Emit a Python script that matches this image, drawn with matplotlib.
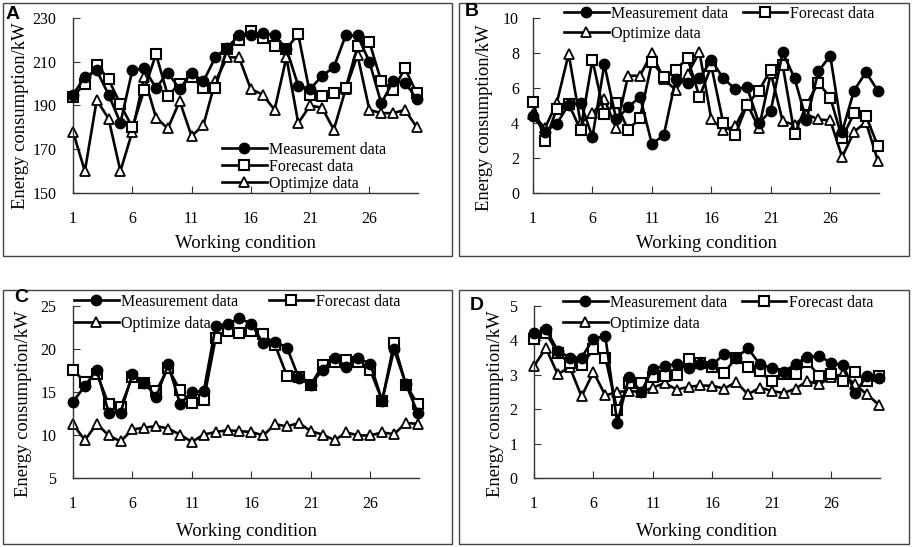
import matplotlib
matplotlib.use("Agg")
import matplotlib.pyplot as plt
from matplotlib.patches import Rectangle

W, H = 913, 547

cond = list(range(1, 31))

# Panel A
a_meas = [195, 203, 206, 195, 182, 206, 207, 198, 205, 197.5, 205, 201, 212, 216.5, 222,
          222, 223, 222, 216, 199, 197.5, 203.5, 207.5, 222, 222, 210, 191, 201, 200.5, 193]
a_fore = [194, 200, 208.5, 202, 190.5, 180, 197, 213.5, 194.5, 200, 203, 198, 198, 216, 220,
          224, 221, 217, 216, 222.5, 195, 194.5, 195.5, 198, 217, 219, 201, 197, 207, 195.5]
a_opt = [178, 160, 192.5, 184, 160, 178, 203, 184.5, 179.5, 192, 176, 181, 201, 212, 212,
         197.5, 195, 188, 212, 182, 190, 189, 179, 197.5, 213, 188, 186.5, 186.5, 188, 180]

# Panel B
b_meas = [4.4, 3.5, 3.95, 5.05, 5.15, 3.2, 7.35, 4.2, 4.9, 5.5, 2.8, 3.3, 6.5, 6.3, 6.55,
          7.6, 6.55, 5.95, 6.05, 4.0, 4.7, 8.05, 6.55, 4.15, 6.95, 7.85, 3.5, 5.85, 6.9, 5.85]
b_fore = [5.2, 2.95, 4.8, 5.1, 3.6, 7.6, 4.5, 5.15, 3.6, 4.3, 7.5, 6.65, 7.05, 7.7, 5.5,
          7.25, 4.0, 3.3, 5.05, 5.85, 7.05, 7.3, 3.35, 5.05, 6.3, 5.45, 3.15, 4.55, 4.4, 2.7]
b_opt = [4.5, 3.7, 5.15, 7.95, 4.0, 4.55, 5.35, 3.7, 6.7, 6.7, 8.0, 6.5, 5.9, 6.8, 8.05,
         4.2, 3.6, 3.8, 5.1, 3.7, 6.85, 4.1, 3.9, 4.5, 4.2, 4.15, 2.05, 3.5, 4.05, 1.85]

# Panel C
c_meas = [13.85, 15.7, 17.6, 12.6, 12.6, 17.1, 16.1, 14.4, 18.2, 13.65, 14.95, 15.1, 22.7,
          22.9, 23.55, 22.95, 20.65, 20.85, 20.15, 16.6, 15.85, 17.6, 18.95, 17.95, 18.9,
          18.3, 14.0, 19.95, 15.9, 12.55]
c_fore = [17.55, 16.2, 17.15, 13.55, 13.2, 16.8, 16.1, 15.15, 17.75, 15.2, 13.7, 14.1, 21.3,
          22.1, 21.85, 22.1, 21.75, 20.45, 16.85, 16.8, 15.85, 18.1, 18.5, 18.7, 18.5,
          17.55, 14.0, 20.65, 15.85, 13.55]
c_opt = [11.25, 9.4, 11.3, 9.95, 9.25, 10.65, 10.85, 11.05, 10.75, 10.05, 9.2, 10.05, 10.35,
         10.55, 10.45, 10.35, 9.95, 11.25, 11.0, 11.4, 10.45, 10.05, 9.4, 10.3, 9.95, 9.95,
         10.3, 10.1, 11.4, 11.3]

# Panel D
d_meas = [4.21, 4.33, 3.7, 3.5, 3.5, 4.05, 4.12, 1.6, 2.95, 2.5, 3.18, 3.25, 3.32, 3.2, 3.3,
          3.3, 3.6, 3.5, 3.77, 3.3, 3.2, 3.08, 3.32, 3.52, 3.54, 3.35, 3.28, 2.47, 2.97, 2.92]
d_fore = [4.03, 4.22, 3.63, 3.34, 3.28, 3.74, 3.5, 1.97, 2.77, 2.77, 2.94, 2.96, 2.99, 3.47,
          3.33, 3.23, 3.06, 3.5, 3.23, 3.1, 2.81, 3.03, 3.03, 3.37, 2.96, 3.02, 2.82, 3.08,
          2.82, 2.96]
d_opt = [3.25, 3.78, 3.01, 3.23, 2.37, 3.08, 2.4, 2.5, 2.53, 2.5, 2.63, 2.76, 2.57, 2.65, 2.69,
         2.68, 2.6, 2.79, 2.43, 2.63, 2.53, 2.47, 2.6, 2.82, 2.72, 2.94, 3.02, 2.72, 2.43, 2.13]

xticks = [1, 6, 11, 16, 21, 26]
labels = ["Measurement data", "Forecast data", "Optimize data"]
serif = "Liberation Serif"


def fx(px):
    return px / W


def fy(py):
    return 1 - py / H


def make_axes(l, t, r, b):
    return fig.add_axes([fx(l), fy(b), fx(r - l), (b - t) / H])


def draw_panel(ax, meas, fore, opt, ylim, yticks, ypad):
    lm, = ax.plot(cond, meas, color="black", lw=1.9, marker="o", ms=7.5,
                  mfc="black", mec="black", clip_on=False, zorder=4)
    lf, = ax.plot(cond, fore, color="black", lw=1.9, marker="s", ms=6.5,
                  mfc="white", mec="black", mew=1.5, clip_on=False, zorder=3)
    lo, = ax.plot(cond, opt, color="black", lw=1.9, marker="^", ms=6.5,
                  mfc="white", mec="black", mew=1.3, clip_on=False, zorder=2)
    ax.set_xlim(1, 30.1)
    ax.set_ylim(*ylim)
    ax.set_xticks(xticks)
    ax.set_yticks(yticks)
    for s in ["top", "right"]:
        ax.spines[s].set_visible(False)
    for s in ["left", "bottom"]:
        ax.spines[s].set_color("#333333")
        ax.spines[s].set_linewidth(1.0)
    ax.tick_params(axis="x", direction="in", length=5, pad=13, labelsize=11.5,
                   color="#333333")
    ax.tick_params(axis="y", direction="in", length=5, pad=ypad, labelsize=11.5,
                   color="#333333")
    for t in ax.get_xticklabels() + ax.get_yticklabels():
        t.set_family(serif)
    ax.set_xlabel("Working condition", family=serif, fontsize=13.5, va="center")
    ax.set_ylabel("Energy consumption/kW", family=serif, fontsize=13.4, va="center")
    return lm, lf, lo


fig = plt.figure(figsize=(W / 100, H / 100), dpi=100)

# panel frames
for l, t, r, b in [(3, 3, 452, 256), (459, 3, 909, 256), (3, 290, 452, 544), (459, 290, 909, 544)]:
    fig.patches.append(Rectangle((fx(l), fy(b)), fx(r - l), (b - t) / H, transform=fig.transFigure,
                                 fill=False, ec="#444444", lw=1.0))

leg_kw = dict(frameon=False, borderpad=0, borderaxespad=0, handlelength=2.8,
              handletextpad=0.15, prop={"family": serif, "size": 11.5})

# A
axA = make_axes(73, 18, 418, 193)
h = draw_panel(axA, a_meas, a_fore, a_opt, (150, 230), [150, 170, 190, 210, 230], 12)
axA.xaxis.set_label_coords(0.5, -0.29)
axA.yaxis.set_label_coords(-0.151, 0.443)
fig.legend(h, labels, loc="upper left", bbox_to_anchor=(fx(222), fy(142)),
           labelspacing=0.06, **leg_kw)

# B
axB = make_axes(533, 18, 879, 193)
h = draw_panel(axB, b_meas, b_fore, b_opt, (0, 10), [0, 2, 4, 6, 8, 10], 10)
axB.xaxis.set_label_coords(0.5, -0.29)
axB.yaxis.set_label_coords(-0.139, 0.433)
fig.legend([h[0], h[2], h[1]], [labels[0], labels[2], labels[1]], loc="upper left",
           ncol=2, columnspacing=0.9, bbox_to_anchor=(fx(564), fy(6)),
           labelspacing=0.22, **leg_kw)

# C
axC = make_axes(73, 306, 419, 478)
h = draw_panel(axC, c_meas, c_fore, c_opt, (5, 25), [5, 10, 15, 20, 25], 12)
axC.xaxis.set_label_coords(0.5, -0.31)
axC.yaxis.set_label_coords(-0.144, 0.433)
fig.legend([h[0], h[2], h[1]], [labels[0], labels[2], labels[1]], loc="upper left",
           ncol=2, columnspacing=1.9, bbox_to_anchor=(fx(74), fy(294)),
           labelspacing=0.35, **leg_kw)

# D
axD = make_axes(534, 306, 880, 478)
h = draw_panel(axD, d_meas, d_fore, d_opt, (0, 5), [0, 1, 2, 3, 4, 5], 12)
axD.xaxis.set_label_coords(0.5, -0.31)
axD.yaxis.set_label_coords(-0.112, 0.433)
fig.legend([h[0], h[2], h[1]], [labels[0], labels[2], labels[1]], loc="upper left",
           ncol=2, columnspacing=0.9, bbox_to_anchor=(fx(563), fy(295)),
           labelspacing=0.3, **leg_kw)

# panel letters
for letter, x, y in [("A", 6, 6), ("B", 465, 3), ("C", 14, 289), ("D", 470, 297)]:
    fig.text(fx(x), fy(y), letter, family="Liberation Sans", fontweight="bold",
             fontsize=14, ha="left", va="top")

fig.savefig("out.png", dpi=100)
